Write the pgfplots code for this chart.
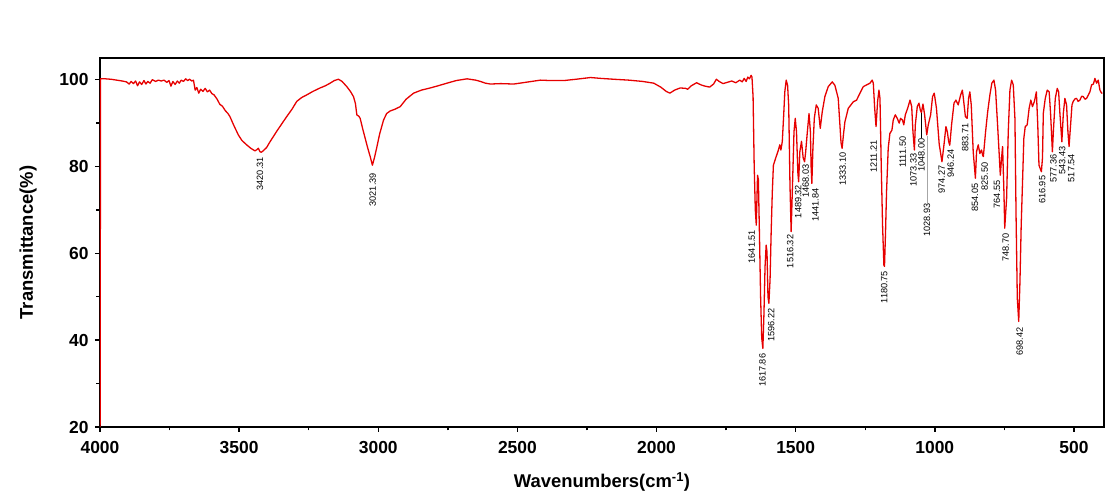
\documentclass[border=0pt]{standalone}
\usepackage{pgfplots}
\pgfplotsset{compat=1.18}
\usepackage{pgfplotstable}
\usepackage{fontspec}
\setmainfont{Liberation Sans}

% FTIR spectrum: wavenumber (cm^-1) vs. transmittance (%)
\pgfplotstableread{
nu T
4000 0
3998 100.2
3980 100.2
3960 100.1
3940 99.9
3920 99.7
3905 99.5
3895 99.0
3888 99.6
3880 99.1
3872 99.7
3865 98.6
3858 99.5
3850 98.9
3842 99.8
3835 99.0
3828 99.6
3820 99.2
3812 100.0
3800 99.6
3790 99.9
3780 99.7
3770 99.9
3760 99.4
3752 99.8
3745 98.5
3738 99.6
3730 98.9
3722 99.7
3715 99.2
3708 99.9
3700 99.6
3692 100.2
3685 99.8
3678 100.1
3670 99.7
3664 99.9
3658 97.6
3652 98.2
3645 96.9
3638 97.8
3630 97.3
3622 98.0
3614 97.2
3606 97.6
3598 96.8
3590 96.5
3580 95.6
3569 94.3
3560 93.9
3550 92.9
3540 92.2
3533 91.5
3520 89.6
3503 87.3
3490 86.0
3473 85.0
3458 84.2
3443 83.6
3436 83.9
3431 84.2
3425 83.4
3420 83.3
3412 83.7
3401 84.4
3390 85.6
3380 86.6
3365 88.1
3345 90.0
3329 91.5
3310 93.2
3293 95.0
3275 95.9
3257 96.5
3235 97.3
3209 98.1
3190 98.6
3173 99.2
3158 99.8
3143 100.1
3130 99.6
3113 98.4
3100 97.3
3089 96.1
3082 94.5
3077 91.9
3070 91.6
3065 91.1
3056 88.7
3047 86.5
3038 84.3
3029 82.3
3021 80.3
3013 82.2
3005 84.5
2995 87.5
2981 90.7
2970 92.2
2957 92.8
2940 93.2
2921 93.8
2900 95.5
2873 96.9
2845 97.6
2813 98.1
2785 98.6
2753 99.2
2720 99.8
2681 100.2
2650 99.9
2633 99.6
2615 99.2
2597 99.0
2560 99.1
2513 99.0
2470 99.4
2417 99.9
2380 99.8
2333 99.8
2290 100.1
2237 100.5
2200 100.3
2153 100.1
2100 99.9
2050 99.6
2010 99.2
1985 98.3
1965 97.3
1952 96.9
1935 97.6
1915 98.1
1895 98.0
1888 97.8
1875 98.6
1856 99.3
1840 98.8
1825 98.5
1809 98.3
1795 99.0
1785 100.1
1775 99.6
1761 99.1
1745 99.4
1730 99.7
1715 99.3
1701 99.9
1692 99.5
1685 100.3
1678 99.6
1672 100.6
1666 100.2
1660 101.0
1657 100.6
1653 96.0
1649 80.0
1645 70.0
1641.5 66.5
1637 78.0
1634 77.0
1630 64.0
1626 50.0
1622 40.5
1617.9 38.1
1614 46.0
1610 57.0
1606 61.9
1603 60.3
1599.5 50.0
1596.2 48.5
1592 54.0
1588 65.0
1584 74.0
1580 80.3
1572 81.9
1562 83.8
1557 85.0
1553 83.8
1548 85.8
1543 91.9
1539 97.2
1534 99.9
1529 98.7
1525 94.0
1520.5 76.0
1516.3 65.0
1511 76.5
1506 88.0
1501.5 91.1
1497 88.0
1492 78.5
1489.3 76.5
1485 83.4
1479 85.8
1473 82.0
1468 81.1
1464 83.4
1458 88.0
1452 92.2
1447 88.0
1444.5 80.0
1441.8 76.1
1438 84.2
1433 91.1
1426 94.2
1419 93.4
1411.6 88.8
1404.5 92.6
1395 96.1
1383 98.4
1368.5 99.5
1359 98.7
1347 95.7
1341 89.6
1337 85.5
1333.1 84.2
1328 87.5
1323 90.3
1311 93.4
1293 94.9
1281 95.3
1269 96.9
1257 98.4
1245 98.8
1233 99.2
1225 99.9
1221 99.2
1216 93.4
1211.2 89.2
1205.5 95.0
1200.7 97.6
1197 95.7
1192.5 80.3
1187.7 66.5
1183 57.3
1180.75 57.0
1177 65.0
1173.4 74.2
1167.4 84.2
1161.4 87.6
1154 88.4
1149.4 90.7
1142 91.9
1135 91.1
1128 90.0
1123 91.1
1116 90.7
1111.5 89.6
1106 91.9
1097.6 93.4
1089 95.3
1083 93.8
1078.5 88.0
1073.3 83.8
1070 89.6
1063 93.8
1057 94.6
1052 93.0
1048 92.4
1042.5 94.4
1036.6 91.9
1028.9 87.3
1023.5 89.6
1015 91.9
1008 96.1
1002 96.9
994 93.4
984 85.0
981.8 84.2
974.3 81.1
967 85.0
960 89.2
955 88.0
950 85.7
946.2 84.9
939.7 89.6
931 94.6
924 95.3
916 94.2
907 96.5
901 97.6
898 96.1
890 91.5
883.7 91.1
878.6 95.7
874 97.2
869 94.2
862 83.4
854.1 77.3
850 83.4
844 85.0
838 83.0
832 83.8
828 82.6
825.5 82.3
817.5 88.0
810 92.6
802 96.5
795 99.2
787.6 99.9
781.6 97.6
774.4 89.6
768.4 82.6
764.6 78.0
760 82.0
756.4 84.6
751.6 74.2
748.7 65.8
742 72.6
736 88.0
730 97.6
724 99.9
718 98.8
712 91.0
708 68.8
703.5 49.6
698.4 44.3
694 53.4
689.5 66.5
684.7 76.5
680 86.5
675 89.2
668 89.6
661 93.4
655 95.3
649 93.8
642 95.0
635 97.2
630 89.6
625.6 80.3
617 78.8
613 82.0
610 92.3
603 95.7
596 97.6
589 97.2
584 92.3
577.4 83.4
574 88.0
567 95.7
560 98.0
555 97.2
550.5 92.3
543.4 85.7
538 92.3
532.5 95.7
526.5 94.2
521.6 88.0
517.5 84.6
512 89.6
507 94.2
502.6 95.0
496 95.6
490.6 95.7
485 95.0
478.6 95.3
472 96.2
466.6 96.1
460 95.5
454.6 95.7
448 96.5
442.6 97.2
436.6 98.8
430 99.0
424.6 100.3
418.6 99.2
412.6 99.9
406.6 97.6
400.6 96.9
398 97.0
}\spectrum

\tikzset{peak/.style={rotate=90, anchor=east, inner sep=0pt,
  font=\fontsize{9.2}{10}\selectfont}}

\begin{document}
\begin{tikzpicture}
\path[use as bounding box] (-100bp,-77bp) rectangle (1016bp,427bp);
\begin{axis}[
  scale only axis,
  width=1004bp, height=369bp,
  x dir=reverse,
  xmin=392, xmax=4000,
  ymin=20, ymax=105,
  xtick={500,1000,...,4000},
  ytick={20,40,...,100},
  minor x tick num=1,
  minor y tick num=1,
  tick align=outside,
  tick pos=left,
  major tick length=5bp,
  minor tick length=3.5bp,
  axis line style={line width=1.8bp},
  every tick/.append style={line width=1.4bp, black},
  /pgf/number format/assume math mode=true,
  /pgf/number format/1000 sep={},
  tick label style={font=\fontsize{17.5}{18}\selectfont\bfseries},
  xticklabel style={yshift=-6bp},
  yticklabel style={xshift=-3bp},
  label style={font=\fontsize{18.5}{20}\selectfont\bfseries},
  xlabel={Wavenumbers(cm\textsuperscript{-1})},
  ylabel={Transmittance(\%)},
  xlabel style={at={(axis description cs:0.5,-0.149)}, anchor=center},
  ylabel style={at={(axis description cs:-0.0717,0.5)}, anchor=center},
]
\addplot[color={rgb,255:red,230;green,0;blue,0}, line width=1.3bp, line join=round]
  table[x=nu, y=T] {\spectrum};

% peak annotations
\node[peak] at (axis cs:3425,82.2) {3420.31};
\node[peak] at (axis cs:3020,78.5) {3021.39};
\node[peak] at (axis cs:1658,65.4) {1641.51};
\node[peak] at (axis cs:1619,36.9) {1617.86};
\node[peak] at (axis cs:1588,47.3) {1596.22};
\node[peak] at (axis cs:1520,64.3) {1516.32};
\node[peak] at (axis cs:1491,75.8) {1489.32};
\node[peak] at (axis cs:1464,80.5) {1468.03};
\node[peak] at (axis cs:1429,75.0) {1441.84};
\node[peak] at (axis cs:1331,83.3) {1333.10};
\node[peak] at (axis cs:1220,86.1) {1211.21};
\node[peak] at (axis cs:1182,56.0) {1180.75};
\node[peak] at (axis cs:1115,86.9) {1111.50};
\node[peak] at (axis cs:1077,83.0) {1073.33};
\node[peak] at (axis cs:1048,86.5) {1048.00};
\node[peak] at (axis cs:1028,71.5) {1028.93};
\node[peak] at (axis cs:975,80.3) {974.27};
\node[peak] at (axis cs:943,84.0) {946.24};
\node[peak] at (axis cs:891,89.9) {883.71};
\node[peak] at (axis cs:856,76.1) {854.05};
\node[peak] at (axis cs:821,81.0) {825.50};
\node[peak] at (axis cs:777,76.9) {764.55};
\node[peak] at (axis cs:745,64.6) {748.70};
\node[peak] at (axis cs:695,42.9) {698.42};
\node[peak] at (axis cs:614,77.9) {616.95};
\node[peak] at (axis cs:574,82.8) {577.36};
\node[peak] at (axis cs:542,84.7) {543.43};
\node[peak] at (axis cs:510,82.9) {517.54};

% leader lines for the crowded labels
\draw[black, line width=0.8bp] (axis cs:1048,92.3) -- (axis cs:1048,86.6);
\draw[gray!70, line width=0.4bp] (axis cs:1028,87.1) -- (axis cs:1028,71.6);
\end{axis}
\end{tikzpicture}
\end{document}
